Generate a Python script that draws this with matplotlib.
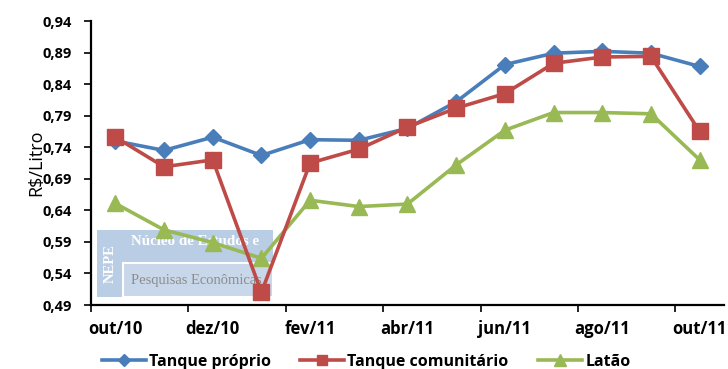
import matplotlib.pyplot as plt
import numpy as np
from matplotlib import patches

# preço médio do leite por tipo de armazenamento
meses = ['out/10', 'nov/10', 'dez/10', 'jan/11', 'fev/11', 'mar/11', 'abr/11',
         'mai/11', 'jun/11', 'jul/11', 'ago/11', 'set/11', 'out/11']
tanque_proprio = [0.750, 0.735, 0.756, 0.727, 0.752, 0.751, 0.770,
                  0.812, 0.871, 0.889, 0.892, 0.889, 0.868]
tanque_comunitario = [0.756, 0.709, 0.720, 0.510, 0.715, 0.737, 0.772,
                      0.802, 0.825, 0.873, 0.883, 0.884, 0.765]
latao = [0.651, 0.609, 0.589, 0.564, 0.656, 0.646, 0.650,
         0.712, 0.767, 0.795, 0.795, 0.793, 0.720]
yticks = [0.49, 0.54, 0.59, 0.64, 0.69, 0.74, 0.79, 0.84, 0.89, 0.94]

fig = plt.figure(figsize=(7.28, 3.69), dpi=100)
ax = fig.add_axes([0.125, 0.1734, 0.8695, 0.7696])

x = np.arange(len(meses))
ax.plot(x, tanque_proprio, color='#4A7EBB', lw=2.6, marker='D', ms=8.5,
        label='Tanque próprio', zorder=5)
ax.plot(x, tanque_comunitario, color='#BE4B48', lw=2.6, marker='s', ms=11,
        label='Tanque comunitário', zorder=6)
ax.plot(x, latao, color='#98B954', lw=2.6, marker='^', ms=12,
        label='Latão', zorder=4)

ax.set_xlim(-0.5, len(meses) - 0.5)
ax.set_ylim(0.49, 0.94)
ax.set_yticks(yticks)
ax.set_yticklabels([f'{v:.2f}'.replace('.', ',') for v in yticks],
                   fontsize=10.5, fontweight='bold', family='Open Sans')
ax.set_ylabel('R$/Litro', fontsize=13, family='Open Sans', labelpad=-2)

# marcas do eixo x a cada dois meses, rótulos no centro das categorias
ax.set_xticks(np.arange(-0.5, len(meses) - 0.5, 2))
ax.set_xticklabels([])
ax.set_xticks(x[::2], minor=True)
ax.set_xticklabels(meses[::2], minor=True, fontsize=12, fontweight='bold',
                   family='Open Sans')
ax.tick_params(axis='x', which='major', length=5, width=1.2, direction='out')
ax.tick_params(axis='x', which='minor', length=0, pad=11)
ax.tick_params(axis='y', length=5, width=1.2, direction='out', pad=9)

for s in ['top', 'right']:
    ax.spines[s].set_visible(False)
for s in ['left', 'bottom']:
    ax.spines[s].set_linewidth(1.6)

# logotipo do NEPE
tr = ax.transAxes
ax.add_patch(patches.Rectangle((0.0095, 0.028), 0.278, 0.236, transform=tr,
                               facecolor='#B9CDE5', edgecolor='none', zorder=1))
ax.add_patch(patches.Rectangle((0.0505, 0.028), 0.237, 0.119, transform=tr,
                               facecolor='#C9D7EA', edgecolor='white', lw=1.5,
                               zorder=2))
ax.text(0.031, 0.145, 'NEPE', transform=tr, rotation=90, ha='center',
        va='center', color='white', fontsize=10.5, fontweight='bold',
        family='Liberation Serif', zorder=3)
ax.text(0.063, 0.222, 'Núcleo de Estudos e', transform=tr, ha='left',
        va='center', color='white', fontsize=10.8, fontweight='bold',
        family='Liberation Serif', zorder=3)
ax.text(0.063, 0.088, 'Pesquisas Econômicas', transform=tr, ha='left',
        va='center', color='#8C8C8C', fontsize=10.5,
        family='Liberation Serif', zorder=3)

leg = ax.legend(loc='center', ncol=3, frameon=False,
                prop={'family': 'Open Sans', 'weight': 'bold', 'size': 11.5},
                handlelength=2.75, columnspacing=1.85, handletextpad=0.2,
                markerscale=0.7)
leg.set_bbox_to_anchor((0.503, 0.02), transform=fig.transFigure)

fig.savefig('out.png', dpi=100)
